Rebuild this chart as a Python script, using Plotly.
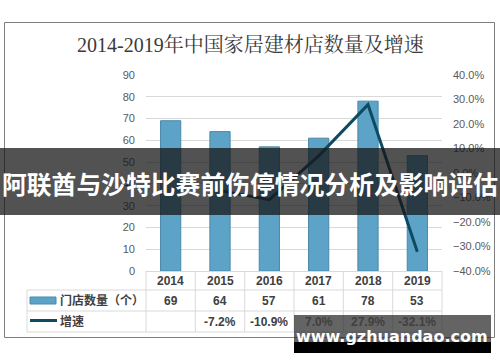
import plotly.graph_objects as go

years = ["2014", "2015", "2016", "2017", "2018", "2019"]
stores = [69, 64, 57, 61, 78, 53]
growth = [None, -0.072, -0.109, 0.070, 0.279, -0.321]
growth_labels = ["", "-7.2%", "-10.9%", "7.0%", "27.9%", "-32.1%"]
left_ticks = [0, 10, 20, 30, 40, 50, 60, 70, 80, 90]
right_ticks = [-0.4, -0.3, -0.2, -0.1, 0.0, 0.1, 0.2, 0.3, 0.4]

W, H = 500, 362
L, R, T, B = 146, 442, 75, 271

def px(x):
    return (x - L) / (R - L)

def py(y):
    return (B - y) / (B - T)

fig = go.Figure()
fig.add_trace(go.Bar(
    x=years, y=stores, width=0.41,
    marker=dict(color="#5CA3C7", line=dict(color="#4A89A8", width=1)),
    name="门店数量（个）", yaxis="y"))
fig.add_trace(go.Scatter(
    x=years, y=growth, mode="lines",
    line=dict(color="#0E4B62", width=3),
    name="增速", yaxis="y2", connectgaps=False))

tickfont = dict(family="Liberation Sans, Noto Sans CJK SC", size=11, color="#595959")
fig.update_layout(
    width=W, height=H,
    margin=dict(l=L, r=W - R, t=T, b=H - B, pad=0, autoexpand=False),
    paper_bgcolor="white", plot_bgcolor="white",
    showlegend=False,
    xaxis=dict(type="category", categoryorder="array", categoryarray=years,
               range=[-0.5, len(years) - 0.5],
               showticklabels=False, showgrid=False, zeroline=False,
               showline=True, linecolor="#D9D9D9", linewidth=1, ticks="", automargin=False),
    yaxis=dict(range=[0, 90], tickvals=left_ticks, showgrid=True, automargin=False,
               gridcolor="#D9D9D9", gridwidth=1, zeroline=False,
               tickfont=tickfont, ticks="", ticklabelstandoff=10),
    yaxis2=dict(range=[-0.4, 0.4], tickvals=right_ticks, tickformat=".1%", automargin=False,
                overlaying="y", side="right", showgrid=False, zeroline=False,
                tickfont=tickfont, ticks="", ticklabelstandoff=10),
)

shapes = []
ann = []

# outer border
shapes.append(dict(type="rect", xref="paper", yref="paper",
                   x0=px(4.5), x1=px(494.5), y0=py(22.5), y1=py(337.5),
                   line=dict(color="#7F7F7F", width=1), fillcolor="rgba(0,0,0,0)", layer="below"))

# title
ann.append(dict(text="2014-2019年中国家居建材店数量及增速", xref="paper", yref="paper",
                x=px(250), y=py(45), showarrow=False, xanchor="center", yanchor="middle",
                font=dict(family="Liberation Serif, Noto Serif CJK SC, Noto Sans CJK SC", size=20, color="#3A3A3A")))

# table grid
grid = "#D9D9D9"
rows_y = [271, 290, 311, 332]
col_x = [146, 195.3, 244.7, 294, 343.3, 392.7, 442]
for yy in rows_y[1:]:
    shapes.append(dict(type="line", xref="paper", yref="paper", x0=px(27), x1=px(442),
                       y0=py(yy), y1=py(yy), line=dict(color=grid, width=1)))
for xx in col_x:
    shapes.append(dict(type="line", xref="paper", yref="paper", x0=px(xx), x1=px(xx),
                       y0=py(271), y1=py(332), line=dict(color=grid, width=1)))
shapes.append(dict(type="line", xref="paper", yref="paper", x0=px(27), x1=px(27),
                   y0=py(290), y1=py(332), line=dict(color=grid, width=1)))

cellfont = dict(family="Liberation Sans, Noto Sans CJK SC", size=12, color="#404040")
for i, yr in enumerate(years):
    ann.append(dict(text="<b>%s</b>" % yr, xref="x", yref="paper", x=i, y=py(280.5),
                    showarrow=False, xanchor="center", yanchor="middle", font=cellfont))
    ann.append(dict(text="<b>%d</b>" % stores[i], xref="x", yref="paper", x=i, y=py(300.5),
                    showarrow=False, xanchor="center", yanchor="middle", font=cellfont))
    if growth_labels[i]:
        ann.append(dict(text="<b>%s</b>" % growth_labels[i], xref="x", yref="paper", x=i, y=py(321.5),
                        showarrow=False, xanchor="center", yanchor="middle", font=cellfont))

# legend swatches
shapes.append(dict(type="rect", xref="paper", yref="paper", x0=px(30), x1=px(56),
                   y0=py(297), y1=py(304), fillcolor="#5CA3C7", line=dict(color="#4A89A8", width=1)))
shapes.append(dict(type="line", xref="paper", yref="paper", x0=px(30), x1=px(57),
                   y0=py(320.5), y1=py(320.5), line=dict(color="#0E4B62", width=3)))
ann.append(dict(text="<b>门店数量（个）</b>", xref="paper", yref="paper", x=px(58), y=py(300.5),
                showarrow=False, xanchor="left", yanchor="middle", font=cellfont))
ann.append(dict(text="<b>增速</b>", xref="paper", yref="paper", x=px(58), y=py(321.5),
                showarrow=False, xanchor="left", yanchor="middle", font=cellfont))

# overlay banner
shapes.append(dict(type="rect", xref="paper", yref="paper", x0=px(0), x1=px(500),
                   y0=py(148), y1=py(215), fillcolor="rgba(22,22,22,0.74)", line=dict(width=0),
                   layer="above"))
ann.append(dict(text="<b>阿联酋与沙特比赛前伤停情况分析及影响评估</b>", xref="paper", yref="paper",
                x=px(250), y=py(183), showarrow=False, xanchor="center", yanchor="middle",
                font=dict(family="Noto Sans CJK SC", size=24.8, color="white")))

# watermark
shapes.append(dict(type="rect", xref="paper", yref="paper", x0=px(294), x1=px(491),
                   y0=py(315), y1=py(342), fillcolor="rgba(40,40,40,0.72)", line=dict(width=0),
                   layer="above"))
shapes.append(dict(type="rect", xref="paper", yref="paper", x0=px(294), x1=px(491),
                   y0=py(342), y1=py(353), fillcolor="black", line=dict(width=0), layer="above"))
ann.append(dict(text="<b>www.gzhuandao.com</b>", xref="paper", yref="paper",
                x=px(392), y=py(336), showarrow=False, xanchor="center", yanchor="middle",
                font=dict(family="DejaVu Sans", size=16, color="white")))

fig.update_layout(shapes=shapes, annotations=ann)
fig.write_html("out.html", config={"displayModeBar": False},
               post_script="document.body.style.margin='0';document.body.style.padding='0';")
